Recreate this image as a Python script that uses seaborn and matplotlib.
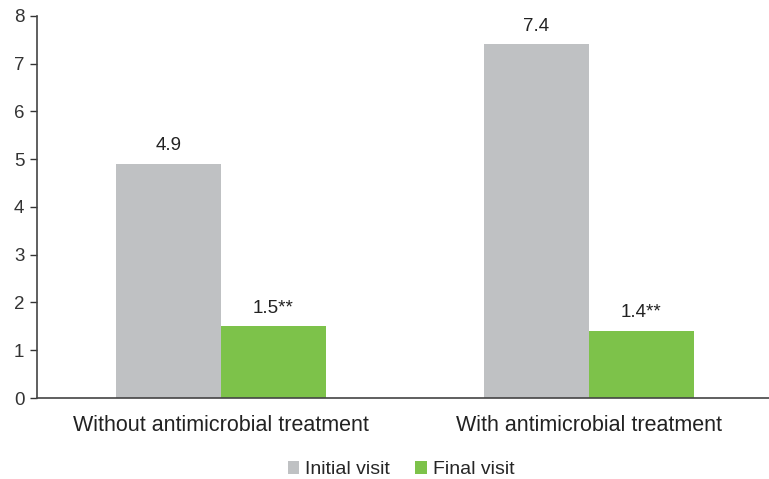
import pandas as pd
import seaborn as sns
from matplotlib import pyplot as plt

groups = ["Without antimicrobial treatment", "With antimicrobial treatment"]
visits = ["Initial visit", "Final visit"]
initial = [4.9, 7.4]
final = [1.5, 1.4]
initial_labels = ["4.9", "7.4"]
final_labels = ["1.5**", "1.4**"]

df = pd.DataFrame({
    "group": groups * 2,
    "visit": [visits[0]] * 2 + [visits[1]] * 2,
    "value": initial + final,
})

sns.set_style("white")
plt.rcParams["font.family"] = ["Liberation Sans", "DejaVu Sans"]

fig = plt.figure(figsize=(7.69, 4.79), dpi=100)
ax = fig.add_axes([0.048, 0.169, 0.957, 0.798])
sns.barplot(
    data=df, x="group", y="value", hue="visit",
    palette=["#BFC1C3", "#7DC24A"], width=0.57, saturation=1,
    linewidth=0, ax=ax,
)

for cont, labs in zip(ax.containers, [initial_labels, final_labels]):
    ax.bar_label(cont, labels=labs, padding=7, fontsize=13.5, color="#222222")

ax.set_ylim(0, 8)
ax.set_xlim(-0.5, 1.5)
ax.set_yticks(range(0, 9))
ax.set_xlabel("")
ax.set_ylabel("")
ax.tick_params(axis="y", left=True, length=5, width=1, colors="#333333", labelsize=13.5, pad=4)
ax.tick_params(axis="x", bottom=False, labelsize=15.5, pad=9, colors="#222222")
for s in ["top", "right"]:
    ax.spines[s].set_visible(False)
for s in ["left", "bottom"]:
    ax.spines[s].set_color("#444444")
    ax.spines[s].set_linewidth(1.2)

ax.legend(
    loc="upper center", bbox_to_anchor=(0.495, -0.12), ncol=2, frameon=False,
    fontsize=14, handlelength=0.6, handleheight=0.6, handletextpad=0.3,
    columnspacing=1.3,
)

fig.savefig("out.png", dpi=100)
